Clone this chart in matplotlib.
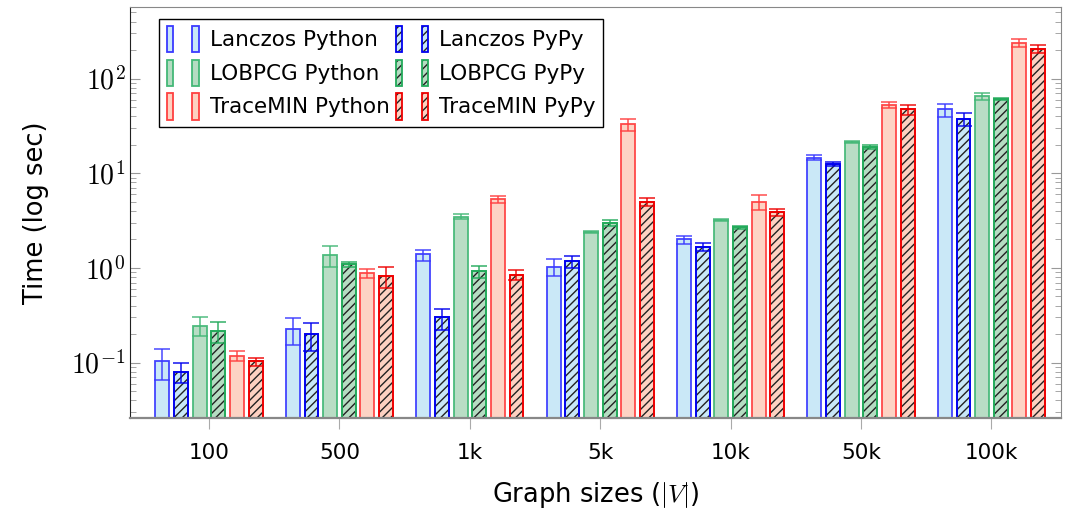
import matplotlib.pyplot as plt
import numpy as np
from matplotlib.patches import Rectangle
from matplotlib.legend_handler import HandlerTuple

plt.rcParams['font.family'] = ['DejaVu Sans']
plt.rcParams['mathtext.fontset'] = 'cm'
plt.rcParams['hatch.linewidth'] = 1.0

sizes = ['100', '500', '1k', '5k', '10k', '50k', '100k']

# mean time, bottom and top of error bar (seconds)
lanczos_py = [0.103, 0.225, 1.40, 1.03, 2.01, 14.6, 47.4]
lanczos_py_lo = [0.066, 0.154, 1.19, 0.83, 1.79, 13.7, 39.6]
lanczos_py_hi = [0.14, 0.294, 1.56, 1.24, 2.19, 15.5, 54.3]

lanczos_pypy = [0.080, 0.201, 0.30, 1.18, 1.68, 12.6, 37.7]
lanczos_pypy_lo = [0.061, 0.134, 0.22, 0.99, 1.52, 12.0, 31.6]
lanczos_pypy_hi = [0.099, 0.263, 0.372, 1.35, 1.84, 13.1, 43.0]

lobpcg_py = [0.246, 1.36, 3.46, 2.38, 3.19, 21.6, 65.0]
lobpcg_py_lo = [0.19, 1.02, 3.26, 2.33, 3.12, 21.1, 60.0]
lobpcg_py_hi = [0.304, 1.69, 3.69, 2.43, 3.26, 22.1, 70.0]

lobpcg_pypy = [0.216, 1.09, 0.92, 3.01, 2.69, 18.8, 60.4]
lobpcg_pypy_lo = [0.16, 1.02, 0.78, 2.80, 2.60, 18.0, 59.0]
lobpcg_pypy_hi = [0.27, 1.16, 1.05, 3.23, 2.80, 19.7, 61.8]

trace_py = [0.119, 0.89, 5.31, 32.9, 5.01, 53.0, 239]
trace_py_lo = [0.103, 0.78, 4.85, 28.1, 4.06, 49.0, 217]
trace_py_hi = [0.133, 0.975, 5.8, 37.1, 5.9, 56.7, 262]

trace_pypy = [0.103, 0.82, 0.84, 5.01, 3.90, 47.8, 205.6]
trace_pypy_lo = [0.093, 0.615, 0.74, 4.5, 3.51, 41.6, 185]
trace_pypy_hi = [0.112, 1.03, 0.945, 5.52, 4.23, 53.0, 226]

labels = ['Lanczos Python', 'Lanczos PyPy', 'LOBPCG Python',
          'LOBPCG PyPy', 'TraceMIN Python', 'TraceMIN PyPy']
series = [
    (lanczos_py, lanczos_py_lo, lanczos_py_hi),
    (lanczos_pypy, lanczos_pypy_lo, lanczos_pypy_hi),
    (lobpcg_py, lobpcg_py_lo, lobpcg_py_hi),
    (lobpcg_pypy, lobpcg_pypy_lo, lobpcg_pypy_hi),
    (trace_py, trace_py_lo, trace_py_hi),
    (trace_pypy, trace_pypy_lo, trace_pypy_hi),
]
fills = ['#c8e7f7', '#c8e7f7', '#b5dcc2', '#b5dcc2', '#fdd1c1', '#fdd1c1']
edges = ['#3a3aff', '#0000ee', '#44b877', '#22aa5a', '#ff4040', '#ee0000']
hatched = [False, True, False, True, False, True]


def make_handle(j):
    # two little bars, like the pgfplots ybar legend
    out = []
    for k in range(2):
        if hatched[j]:
            out.append((Rectangle((0, 0), 1, 1, facecolor=fills[j],
                                  edgecolor='#222222', linewidth=0,
                                  hatch='////'),
                        Rectangle((0, 0), 1, 1, facecolor='none',
                                  edgecolor=edges[j], linewidth=1.3)))
        else:
            out.append(Rectangle((0, 0), 1, 1, facecolor=fills[j],
                                 edgecolor=edges[j], linewidth=1.3))
    return out


fig = plt.figure(figsize=(10.67, 5.08), dpi=100)
ax = fig.add_axes([0.122, 0.177, 0.872, 0.81])

x = np.arange(len(sizes))
pitch = 0.143
width = 0.107
for j, (vals, lo, hi) in enumerate(series):
    vals = np.array(vals)
    pos = x + (j - 2.5) * pitch
    if hatched[j]:
        ax.bar(pos, vals, width, color=fills[j], edgecolor='#222222',
               linewidth=0, hatch='////', zorder=2)
        ax.bar(pos, vals, width, color='none', edgecolor=edges[j],
               linewidth=1.4, zorder=2)
    else:
        ax.bar(pos, vals, width, color=fills[j], edgecolor=edges[j],
               linewidth=1.3, alpha=0.95, zorder=2)
    yerr = [vals - np.array(lo), np.array(hi) - vals]
    ax.errorbar(pos, vals, yerr=yerr, fmt='none', ecolor=edges[j],
                elinewidth=1.2, capsize=5.5, capthick=1.2, alpha=0.85,
                zorder=3)

ax.set_yscale('log')
ax.set_ylim(0.026, 575)
ax.set_xlim(-0.605, 6.53)
ax.set_xticks(x)
ax.set_xticklabels(sizes, fontsize=15.5)
ax.set_yticks([0.1, 1, 10, 100])
ax.set_yticklabels([r'$10^{-1}$', r'$10^{0}$', r'$10^{1}$', r'$10^{2}$'],
                   fontsize=20)
ax.tick_params(axis='y', which='both', direction='in', left=True, right=True,
               color='#999999')
ax.tick_params(axis='y', which='major', length=7)
ax.tick_params(axis='y', which='minor', length=4)
ax.tick_params(axis='x', direction='out', length=8, color='#aaaaaa', pad=10)

for s in ['top', 'right', 'bottom']:
    ax.spines[s].set_color('#888888')
ax.spines['bottom'].set_linewidth(1.6)
ax.spines['left'].set_color('#222222')

ax.set_ylabel('Time (log sec)', fontsize=18.5, labelpad=16)
ax.set_xlabel(r'Graph sizes ($|V|$)', fontsize=18.5, labelpad=12)

order = [0, 2, 4, 1, 3, 5]
leg = ax.legend([make_handle(i) for i in order], [labels[i] for i in order],
                ncol=2, loc='upper left', bbox_to_anchor=(0.031, 0.971),
                borderaxespad=0,
                handler_map={list: HandlerTuple(ndivide=None, pad=0.9)},
                handlelength=1.5, handleheight=1.5, handletextpad=0.5,
                columnspacing=0.3, labelspacing=0.34, borderpad=0.35,
                fontsize=15.5, fancybox=False, edgecolor='black',
                framealpha=1)
leg.get_frame().set_linewidth(1.0)

plt.savefig('out.png')
